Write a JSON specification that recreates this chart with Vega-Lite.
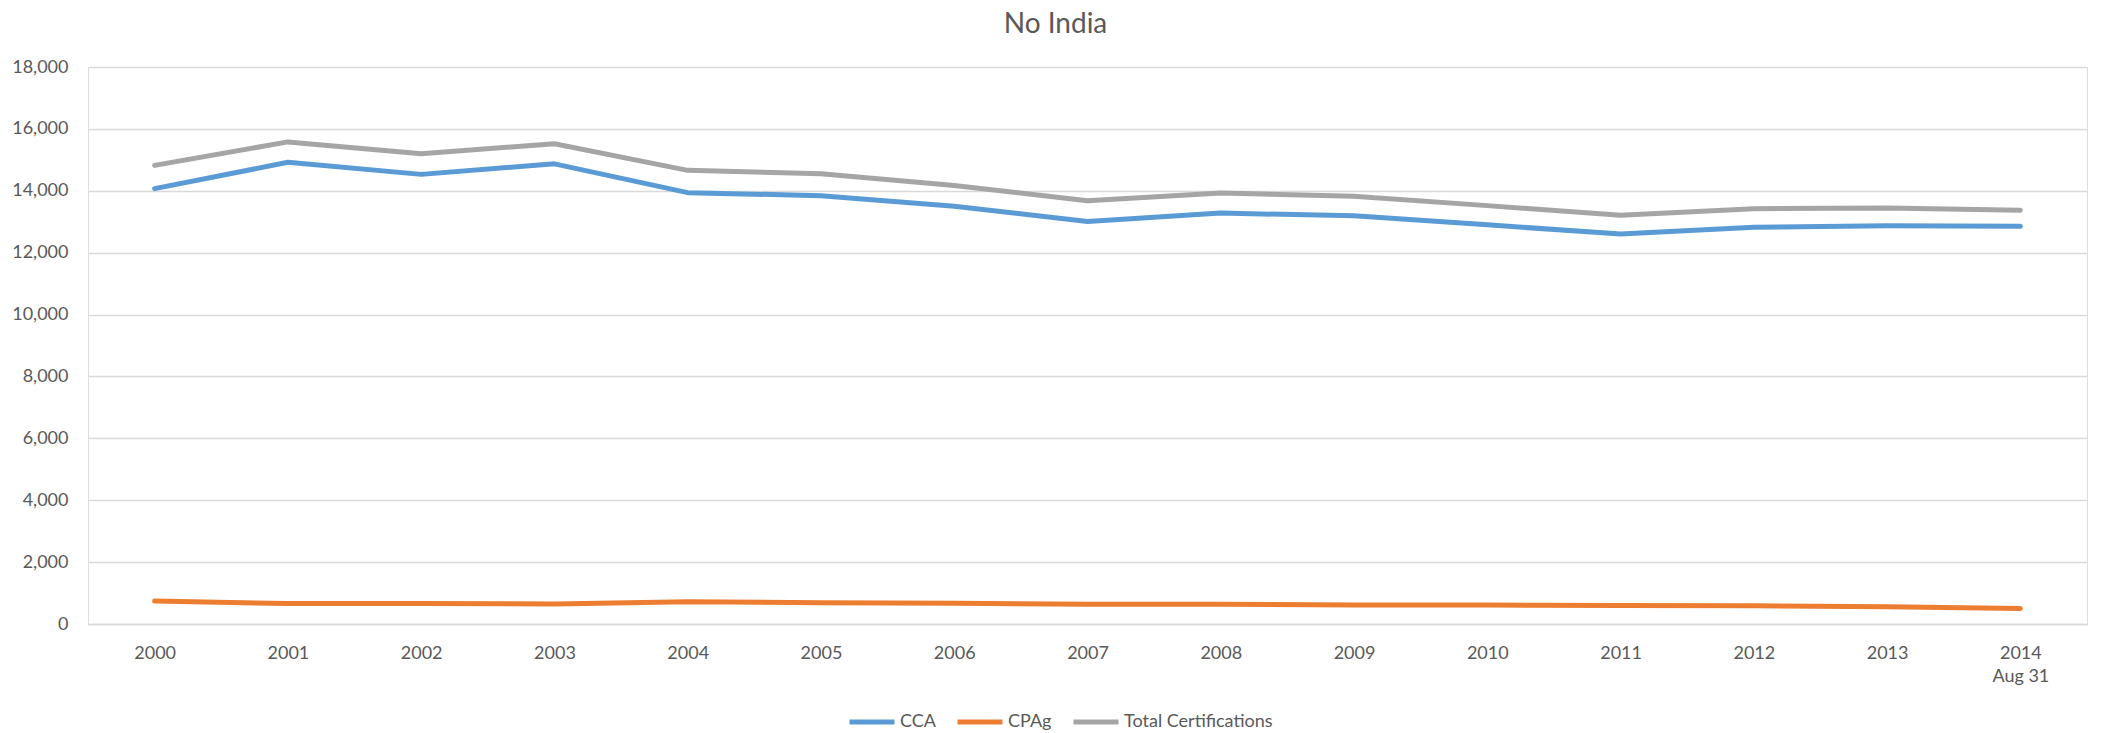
{
  "$schema": "https://vega.github.io/schema/vega-lite/v6.json",
  "width": 1999,
  "height": 557,
  "autosize": {"type": "none"},
  "padding": {"left": 88, "top": 67, "right": 25, "bottom": 109},
  "background": "white",
  "title": {
    "text": "No India",
    "font": "Lato",
    "fontSize": 28,
    "fontWeight": "normal",
    "color": "#595959",
    "anchor": "middle",
    "frame": "group",
    "dx": -32,
    "offset": 19
  },
  "data": {
    "values": [
      {"year": "2000", "series": "CCA", "value": 14070},
      {"year": "2001", "series": "CCA", "value": 14920},
      {"year": "2002", "series": "CCA", "value": 14530},
      {"year": "2003", "series": "CCA", "value": 14870},
      {"year": "2004", "series": "CCA", "value": 13940},
      {"year": "2005", "series": "CCA", "value": 13840},
      {"year": "2006", "series": "CCA", "value": 13500},
      {"year": "2007", "series": "CCA", "value": 13010},
      {"year": "2008", "series": "CCA", "value": 13280},
      {"year": "2009", "series": "CCA", "value": 13190},
      {"year": "2010", "series": "CCA", "value": 12900},
      {"year": "2011", "series": "CCA", "value": 12600},
      {"year": "2012", "series": "CCA", "value": 12820},
      {"year": "2013", "series": "CCA", "value": 12870},
      {"year": "2014", "series": "CCA", "value": 12850},
      {"year": "2000", "series": "CPAg", "value": 740},
      {"year": "2001", "series": "CPAg", "value": 660},
      {"year": "2002", "series": "CPAg", "value": 660},
      {"year": "2003", "series": "CPAg", "value": 650},
      {"year": "2004", "series": "CPAg", "value": 720},
      {"year": "2005", "series": "CPAg", "value": 690},
      {"year": "2006", "series": "CPAg", "value": 670},
      {"year": "2007", "series": "CPAg", "value": 640},
      {"year": "2008", "series": "CPAg", "value": 640},
      {"year": "2009", "series": "CPAg", "value": 610},
      {"year": "2010", "series": "CPAg", "value": 610},
      {"year": "2011", "series": "CPAg", "value": 600},
      {"year": "2012", "series": "CPAg", "value": 590},
      {"year": "2013", "series": "CPAg", "value": 560},
      {"year": "2014", "series": "CPAg", "value": 500},
      {"year": "2000", "series": "Total Certifications", "value": 14820},
      {"year": "2001", "series": "Total Certifications", "value": 15580},
      {"year": "2002", "series": "Total Certifications", "value": 15200},
      {"year": "2003", "series": "Total Certifications", "value": 15520},
      {"year": "2004", "series": "Total Certifications", "value": 14660},
      {"year": "2005", "series": "Total Certifications", "value": 14550},
      {"year": "2006", "series": "Total Certifications", "value": 14170},
      {"year": "2007", "series": "Total Certifications", "value": 13680},
      {"year": "2008", "series": "Total Certifications", "value": 13930},
      {"year": "2009", "series": "Total Certifications", "value": 13820},
      {"year": "2010", "series": "Total Certifications", "value": 13520},
      {"year": "2011", "series": "Total Certifications", "value": 13210},
      {"year": "2012", "series": "Total Certifications", "value": 13420},
      {"year": "2013", "series": "Total Certifications", "value": 13445},
      {"year": "2014", "series": "Total Certifications", "value": 13370}
    ]
  },
  "mark": {"type": "line", "strokeWidth": 5, "strokeCap": "round", "strokeJoin": "round"},
  "encoding": {
    "x": {
      "field": "year",
      "type": "ordinal",
      "scale": {"type": "point", "padding": 0.5},
      "axis": {
        "title": null,
        "labelAngle": 0,
        "labelFont": "Lato",
        "labelFontSize": 18,
        "labelColor": "#595959",
        "labelPadding": 20,
        "labelLineHeight": 23,
        "labelExpr": "datum.value == '2014' ? ['2014', 'Aug 31'] : datum.value",
        "ticks": false,
        "domain": true,
        "domainColor": "#d9d9d9",
        "domainWidth": 1.5,
        "grid": false
      }
    },
    "y": {
      "field": "value",
      "type": "quantitative",
      "scale": {"domain": [0, 18000], "nice": false},
      "axis": {
        "title": null,
        "values": [0, 2000, 4000, 6000, 8000, 10000, 12000, 14000, 16000, 18000],
        "format": ",.0f",
        "labelFont": "Lato",
        "labelFontSize": 18,
        "labelColor": "#595959",
        "labelPadding": 20,
        "ticks": false,
        "domain": false,
        "grid": true,
        "gridColor": "#d9d9d9",
        "gridWidth": 1.3
      }
    },
    "color": {
      "field": "series",
      "type": "nominal",
      "scale": {
        "domain": ["CCA", "CPAg", "Total Certifications"],
        "range": ["#5B9BD5", "#ED7D31", "#A5A5A5"]
      },
      "legend": {
        "title": null,
        "orient": "none",
        "direction": "horizontal",
        "legendX": 759,
        "legendY": 630,
        "symbolType": "stroke",
        "symbolSize": 2025,
        "symbolStrokeWidth": 5,
        "labelFont": "Lato",
        "labelFontSize": 18,
        "labelColor": "#595959",
        "labelOffset": 3,
        "columnPadding": 11
      }
    }
  }
}
